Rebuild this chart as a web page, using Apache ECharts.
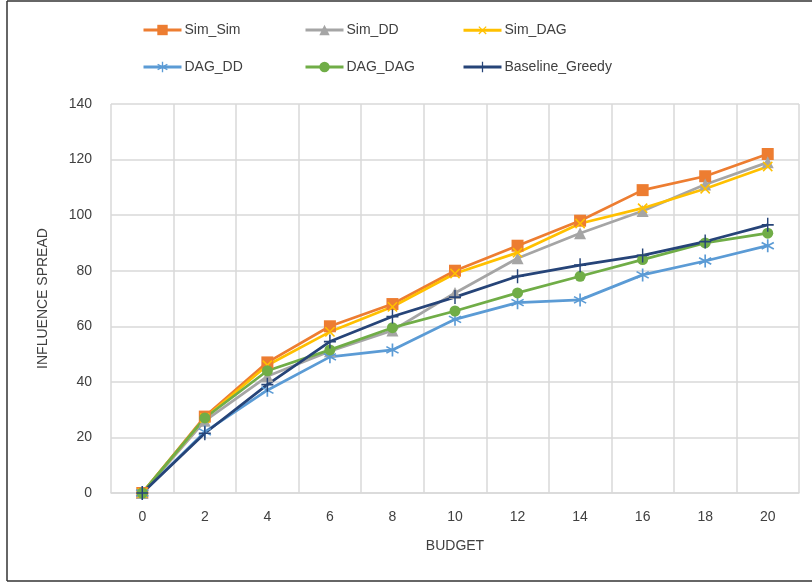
<!DOCTYPE html>
<html>
<head>
<meta charset="utf-8">
<script src="https://cdn.jsdelivr.net/npm/echarts@6/dist/echarts.min.js"></script>
<style>html,body{margin:0;padding:0;background:#fff}#c{width:812px;height:583px}</style>
</head>
<body>
<div id="c"></div>
<script>
const budgets = ['0','2','4','6','8','10','12','14','16','18','20'];
const simSim = [0, 27.5, 47, 60, 68, 80, 89, 98, 109, 114, 122];
const simDD = [0, 26, 42, 51, 58.5, 72, 84.5, 93.5, 101.5, 111, 119];
const simDAG = [0, 27, 46, 58, 67, 79, 86.5, 97, 102.5, 109.5, 117.5];
const dagDD = [0, 22, 37, 49, 51.5, 62.5, 68.5, 69.5, 78.5, 83.5, 89];
const dagDAG = [0, 27, 44, 51.5, 59.5, 65.5, 72, 78, 84, 90, 93.5];
const baseline = [0, 21.5, 39, 54.5, 63.5, 70.5, 78, 82, 85.5, 90.5, 96.5];
const yTicks = [0, 20, 40, 60, 80, 100, 120, 140];

const seriesNames = ['Sim_Sim','Sim_DD','Sim_DAG','DAG_DD','DAG_DAG','Baseline_Greedy'];
const seriesData = [simSim, simDD, simDAG, dagDD, dagDAG, baseline];
const colors = ['#ED7D31','#A5A5A5','#FFC000','#5B9BD5','#70AD47','#264478'];

const plusPath = 'path://M-0.6,-5L0.6,-5L0.6,-0.6L5,-0.6L5,0.6L0.6,0.6L0.6,5L-0.6,5L-0.6,0.6L-5,0.6L-5,-0.6L-0.6,-0.6Z';
const astPath = 'path://M-0.6,-5L0.6,-5L0.6,5L-0.6,5Z M4.03,3.02L-4.63,-1.98L-4.03,-3.02L4.63,1.98Z M4.63,-1.98L-4.03,3.02L-4.63,1.98L4.03,-3.02Z';
const symbols = ['rect','triangle',plusPath,astPath,'circle',plusPath];
const symbolSizes = [12,12,13,13,11,[12,14]];
const symbolRot = [0,0,45,0,0,0];

const chart = echarts.init(document.getElementById('c'));
const font = "'Liberation Sans', Arial, sans-serif";

const legendPos = [[137,28],[299,28],[457,28],[137,65],[299,65],[457,65]];
const legends = seriesNames.map((n,i)=>({
  data:[n], left: legendPos[i][0], top: legendPos[i][1]-10,
  itemWidth: 38, itemHeight: 13, itemGap: 3,
  lineStyle:{width:3},
  textStyle:{color:'#404040', fontSize:14, fontFamily:font, padding:[0,0,0,-2]}
}));

chart.setOption({
  animation:false,
  color: colors,
  legend: legends,
  grid:{left:111, right:13, top:104, bottom:90, containLabel:false},
  xAxis:{
    type:'category', data:budgets, boundaryGap:true,
    name:'BUDGET', nameLocation:'middle', nameGap:46,
    nameTextStyle:{color:'#404040', fontSize:14, fontFamily:font},
    axisLine:{show:true, lineStyle:{color:'#d9d9d9', width:1.5}},
    axisTick:{show:false},
    axisLabel:{color:'#404040', fontSize:14, fontFamily:font, margin:17},
    splitLine:{show:true, lineStyle:{color:'#d9d9d9', width:1.5}}
  },
  yAxis:{
    type:'value', min:0, max:140, interval:20,
    name:'INFLUENCE SPREAD', nameLocation:'middle', nameGap:61,
    nameTextStyle:{color:'#404040', fontSize:14, fontFamily:font},
    axisLine:{show:false}, axisTick:{show:false},
    axisLabel:{color:'#404040', fontSize:14, fontFamily:font, margin:19,
      formatter:(v)=> yTicks.includes(v) ? String(v) : ''},
    splitLine:{show:true, lineStyle:{color:'#d9d9d9', width:1.5}}
  },
  series: seriesNames.map((n,i)=>({
    name:n, type:'line', data:seriesData[i],
    symbol:symbols[i], symbolSize:symbolSizes[i], symbolRotate:symbolRot[i],
    showAllSymbol:true,
    lineStyle:{width:2.75, color:colors[i]},
    itemStyle:{color:colors[i], borderWidth:0}
  })),
  graphic:[
    {type:'line', shape:{x1:7,y1:1,x2:812,y2:1}, style:{stroke:'#333',lineWidth:1.5}},
    {type:'line', shape:{x1:7,y1:1,x2:7,y2:581}, style:{stroke:'#333',lineWidth:1.5}},
    {type:'line', shape:{x1:7,y1:581,x2:812,y2:581}, style:{stroke:'#333',lineWidth:1.5}}
  ]
});
</script>
</body>
</html>
